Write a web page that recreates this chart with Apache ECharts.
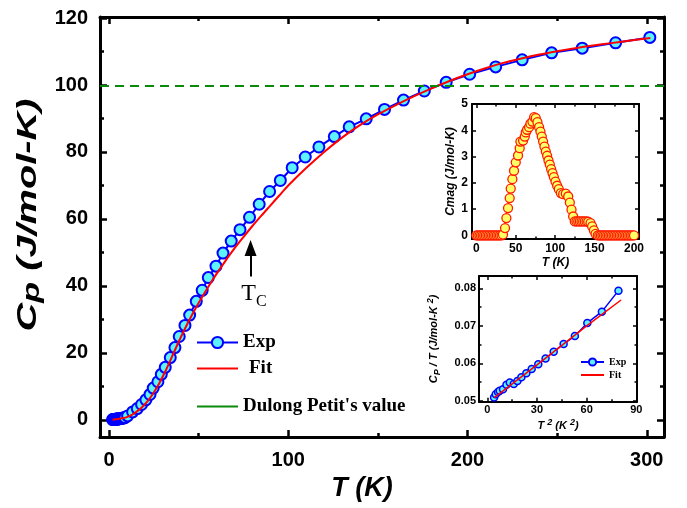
<!DOCTYPE html>
<html>
<head>
<meta charset="utf-8">
<script src="https://cdn.jsdelivr.net/npm/echarts@6/dist/echarts.min.js"></script>
<style>
  html, body { margin: 0; padding: 0; background: #fff; }
  #chart { width: 687px; height: 508px; }
</style>
</head>
<body>
<div id="chart"></div>
<script>
// ---- Main panel: specific heat vs temperature ----
const expT = [2.02, 2.26, 2.55, 2.74, 3.08, 3.41, 3.69, 4.0, 4.27, 4.54, 4.86, 5.18, 5.55, 5.93, 6.33, 6.79, 7.27, 7.77, 8.32, 8.9,
  10.4, 13.2, 15.8, 18.2, 20.6, 22.9, 24.7, 27.3, 29.2, 31.4, 34.2, 36.8, 39.2, 42.4, 45.0, 48.7, 52.0, 55.4, 59.7, 63.6,
  68.2, 73.1, 78.4, 83.8, 89.6, 95.6, 102.2, 109.5, 117.1, 125.7, 134.0, 143.5, 153.7, 164.3, 175.9, 188.1, 201.2, 215.7,
  230.5, 246.9, 264.0, 282.6, 301.7];
const expCp = [0.10, 0.12, 0.13, 0.14, 0.16, 0.19, 0.20, 0.22, 0.24, 0.26, 0.28, 0.30, 0.33, 0.36, 0.40, 0.44, 0.49, 0.55, 0.61, 0.71,
  1.2, 2.4, 3.4, 4.6, 6.0, 7.6, 9.5, 11.4, 13.6, 15.7, 18.6, 21.6, 24.9, 28.2, 31.3, 35.4, 38.7, 42.5, 45.9, 49.8,
  53.4, 56.8, 60.5, 64.4, 68.2, 71.5, 75.3, 78.5, 81.5, 84.6, 87.5, 89.9, 92.7, 95.5, 98.2, 100.8, 103.2, 105.4,
  107.5, 109.6, 111.0, 112.6, 114.2];

const fitT = [2, 5, 8, 10, 13, 16, 19, 22, 25, 28, 31, 34, 37, 40, 43, 46, 50, 55, 60, 65, 70, 75, 80, 85, 90, 95, 100,
  110, 120, 130, 140, 150, 160, 170, 180, 190, 200, 210, 220, 230, 240, 250, 260, 270, 280, 290, 302];
const fitCp = [0.05, 0.25, 0.55, 0.85, 1.6, 2.7, 4.1, 5.9, 8.2, 10.9, 14.0, 17.5, 21.1, 24.6, 27.9, 31.0, 34.9, 39.4, 43.6, 47.5,
  51.2, 54.6, 57.9, 61.0, 64.0, 67.0, 70.0, 75.2, 80.0, 84.3, 88.0, 91.2, 94.0, 96.6, 99.0, 101.2, 103.2, 105.0, 106.6,
  107.9, 109.1, 110.1, 111.0, 111.8, 112.5, 113.2, 114.0];

const dulongPetit = 99.8;

// Curie temperature marker (arrow from/to, label position)
const tcT = 79;
const tcArrowFrom = 42.8;
const tcArrowTo = 51.3;
const tcLabelAt = [80.9, 37.6];

const mainXTicks = [0, 100, 200, 300];
const mainXMinor = [50, 150, 250];
const mainYTicks = [0, 20, 40, 60, 80, 100, 120];
const mainYMinor = [10, 30, 50, 70, 90, 110];

// ---- Inset: magnetic contribution ----
const magT = [0, 2, 4, 6, 8, 10, 12, 14, 16, 18, 20, 22, 24, 26, 28, 30, 32,
  33.8, 36.4, 38.1, 40.2, 42.3, 43.6, 45.7, 47.8, 50.0, 52.9, 55.0, 55.9, 59.3, 61.4, 62.7, 64.4, 66.9, 68.6, 71.1, 73.3,
  75.4, 77.5, 79.6, 81.3, 83.0, 84.7, 86.4, 88.1, 89.8, 91.5, 93.2, 94.9, 96.6, 98.3, 100.4, 102.5, 104.6, 107.2, 110.1, 113.5,
  116.5, 118.6, 120.7, 122.8, 124.9,
  127.0, 129.2, 131.3, 133.4, 135.5, 137.6, 139.8, 141.9, 144.8, 146.9, 149.1, 151.2,
  154, 156, 158, 160, 162, 164, 166, 168, 170, 172, 174, 176, 178, 180, 182, 184, 186, 188, 190, 192, 194, 196, 198, 200];
const magC = [0, 0, 0, 0, 0, 0, 0, 0, 0, 0, 0, 0, 0, 0, 0, 0, 0,
  0.03, 0.28, 0.66, 1.04, 1.42, 1.78, 2.14, 2.46, 2.78, 3.04, 3.32, 3.57, 3.61, 3.76, 3.92, 4.02, 4.12, 4.25, 4.33, 4.50,
  4.46, 4.31, 4.12, 3.95, 3.76, 3.57, 3.38, 3.19, 3.03, 2.85, 2.69, 2.52, 2.37, 2.22, 2.05, 1.89, 1.76, 1.61, 1.57, 1.59,
  1.48, 1.25, 0.98, 0.72, 0.53,
  0.53, 0.53, 0.53, 0.53, 0.53, 0.53, 0.53, 0.52, 0.47, 0.34, 0.19, 0.06,
  0, 0, 0, 0, 0, 0, 0, 0, 0, 0, 0, 0, 0, 0, 0, 0, 0, 0, 0, 0, 0, 0, 0, 0];
const magXTicks = [0, 50, 100, 150, 200];
const magXMinor = [25, 75, 125, 175];
const magYTicks = [0, 1, 2, 3, 4, 5];

// ---- Inset: low-temperature Cp/T vs T^2 ----
const lowT2 = [4.1, 5.1, 6.5, 7.5, 9.5, 11.6, 13.6, 16.0, 18.2, 20.6, 23.6, 26.8, 30.8, 35.2, 40.1, 46.1, 52.9, 60.4, 69.2, 79.2];
const lowCpT = [0.0509, 0.0518, 0.0524, 0.0527, 0.0531, 0.0543, 0.0549, 0.0545, 0.0553, 0.0563, 0.0574, 0.0585, 0.0598,
  0.0613, 0.0631, 0.0652, 0.0673, 0.0708, 0.0738, 0.0794];
const lowFitT2 = [4.2, 30, 60, 80.8];
const lowFitCpT = [0.0509, 0.0596, 0.0700, 0.0769];
const lowXTicks = [0, 30, 60, 90];
const lowXMinor = [15, 45, 75];
const lowYTicks = [0.05, 0.06, 0.07, 0.08];
const lowYMinor = [0.055, 0.065, 0.075];

const SANS = 'Liberation Sans, Arial, sans-serif';
const SERIF = 'Liberation Serif, Times New Roman, serif';

const zip = (a, b) => a.map((v, i) => [v, b[i]]);

// Four axes per dimension: labelled major ticks, minor ticks, and mirrored ticks on the opposite side.
// The major-tick axes also draw the frame lines.
function axisSet(dim, grid, min, max, majors, minors, tick, label, name) {
  const sides = dim === 'x' ? ['bottom', 'top'] : ['left', 'right'];
  const out = [];
  sides.forEach((pos, si) => {
    [[majors, tick.major], [minors, tick.minor]].forEach(([vals, len], mi) => {
      const ax = {
        type: 'value', gridIndex: grid, position: pos, min: min, max: max,
        axisLine: { show: mi === 0, onZero: false, lineStyle: { color: '#000', width: tick.frame } },
        splitLine: { show: false },
        axisTick: { show: vals.length > 0, inside: true, length: len, customValues: vals,
          lineStyle: { color: '#000', width: tick.width } },
        axisLabel: { show: false }
      };
      if (si === 0 && mi === 0) {
        ax.axisLabel = Object.assign({ show: true, customValues: majors, color: '#000' }, label);
        Object.assign(ax, name);
      }
      out.push(ax);
    });
  });
  return out;
}

const mainTick = { major: 7, minor: 4, width: 2.5, frame: 3 };
const insetTick = { major: 4, minor: 2.5, width: 1.5, frame: 2 };

const xAxes = [].concat(
  axisSet('x', 0, -5.0, 309.6, mainXTicks, mainXMinor, mainTick,
    { fontFamily: SANS, fontWeight: 'bold', fontSize: 20, margin: 13 },
    { name: 'T (K)', nameLocation: 'middle', nameGap: 38,
      nameTextStyle: { fontFamily: SANS, fontWeight: 'bold', fontStyle: 'italic', fontSize: 27, color: '#000',
        padding: [0, 40, 0, 0] } }),
  axisSet('x', 1, -5.5, 206.3, magXTicks, magXMinor, insetTick,
    { fontFamily: SANS, fontWeight: 'bold', fontSize: 12, margin: 4 },
    { name: 'T (K)', nameLocation: 'middle', nameGap: 18,
      nameTextStyle: { fontFamily: SANS, fontWeight: 'bold', fontStyle: 'italic', fontSize: 12, color: '#000' } }),
  axisSet('x', 2, -5, 90.4, lowXTicks, lowXMinor, insetTick,
    { fontFamily: SANS, fontWeight: 'bold', fontSize: 11, margin: 3 },
    { name: '{i|T }{u|2}{i| (K }{u|2}{i|)}', nameLocation: 'middle', nameGap: 16,
      nameTextStyle: { rich: {
        i: { fontFamily: SANS, fontWeight: 'bold', fontStyle: 'italic', fontSize: 11, lineHeight: 16, color: '#000' },
        u: { fontFamily: SANS, fontWeight: 'bold', fontStyle: 'italic', fontSize: 9, lineHeight: 9, verticalAlign: 'top', color: '#000' } } } })
);

const yAxes = [].concat(
  axisSet('y', 0, -5.1, 120.3, mainYTicks, mainYMinor, mainTick,
    { fontFamily: SANS, fontWeight: 'bold', fontSize: 20, margin: 12 },
    {}),
  axisSet('y', 1, -0.137, 5, magYTicks, [], insetTick,
    { fontFamily: SANS, fontWeight: 'bold', fontSize: 12, margin: 4 },
    { name: 'Cmag (J/mol-K)', nameLocation: 'middle', nameGap: 15, nameRotate: 90,
      nameTextStyle: { fontFamily: SANS, fontWeight: 'bold', fontStyle: 'italic', fontSize: 12, color: '#000' } }),
  axisSet('y', 2, 0.0498, 0.0833, lowYTicks, lowYMinor, insetTick,
    { fontFamily: SANS, fontWeight: 'bold', fontSize: 11, margin: 3, formatter: v => v.toFixed(2) },
    { name: '{i|C}{s|P}{i| / T (J/mol-K }{u|2}{i|)}', nameLocation: 'middle', nameGap: 37, nameRotate: 90,
      nameTextStyle: { rich: {
        i: { fontFamily: SANS, fontWeight: 'bold', fontStyle: 'italic', fontSize: 11, lineHeight: 16, color: '#000' },
        s: { fontFamily: SANS, fontWeight: 'bold', fontStyle: 'italic', fontSize: 9, lineHeight: 9, verticalAlign: 'bottom', color: '#000' },
        u: { fontFamily: SANS, fontWeight: 'bold', fontStyle: 'italic', fontSize: 9, lineHeight: 9, verticalAlign: 'top', color: '#000' } } } })
);

const legendText = { fontFamily: SERIF, fontWeight: 'bold', fontSize: 19, color: '#000' };
const insetLegendText = { fontFamily: SERIF, fontWeight: 'bold', fontSize: 10, color: '#000' };
const lineOnly = { opacity: 0 };

const option = {
  animation: false,
  backgroundColor: '#fff',
  grid: [
    { left: 100, top: 17, width: 564, height: 420, show: false },
    { left: 472, top: 104, width: 167, height: 135, show: true, borderWidth: 0, backgroundColor: '#fff' },
    { left: 479, top: 276, width: 158, height: 125.7, show: true, borderWidth: 0, backgroundColor: '#fff' }
  ],
  xAxis: xAxes,
  yAxis: yAxes,
  // Main y-axis title, drawn wide like the original typeface
  graphic: [{
    type: 'text', x: 28, y: 215, rotation: Math.PI / 2, scaleX: 1.42, silent: true,
    style: {
      text: '{c|C}{p|p}{c| (J/mol-K)}', align: 'center', verticalAlign: 'middle',
      rich: {
        c: { fontFamily: SANS, fontWeight: 'bold', fontStyle: 'italic', fontSize: 28, lineHeight: 32, fill: '#000' },
        p: { fontFamily: SANS, fontWeight: 'bold', fontStyle: 'italic', fontSize: 24, lineHeight: 24, verticalAlign: 'bottom', fill: '#000' }
      }
    }
  }],
  legend: [
    { data: ['Exp'], left: 196, top: 333, padding: 0, itemWidth: 41, itemHeight: 14, selectedMode: false, textStyle: legendText },
    { data: [{ name: 'Fit', itemStyle: lineOnly }], left: 196, top: 359, padding: 0, itemWidth: 41, itemHeight: 14, selectedMode: false,
      textStyle: Object.assign({ padding: [0, 0, 0, 6] }, legendText) },
    { data: [{ name: "Dulong Petit's value", itemStyle: lineOnly }], left: 196, top: 397, padding: 0, itemWidth: 41, itemHeight: 14,
      selectedMode: false, textStyle: legendText, lineStyle: { type: 'solid' } },
    { data: ['Exp', { name: 'Fit', itemStyle: lineOnly }], orient: 'vertical', left: 580, top: 357, padding: 0, itemGap: 3,
      itemWidth: 23, itemHeight: 9, selectedMode: false, textStyle: insetLegendText }
  ],
  series: [
    {
      name: 'Exp', type: 'line', xAxisIndex: 0, yAxisIndex: 0, z: 3,
      data: zip(expT, expCp),
      symbol: 'circle', symbolSize: 11,
      itemStyle: { color: '#5ef2ff', borderColor: '#0000ff', borderWidth: 2 },
      lineStyle: { color: '#0000ff', width: 2 }
    },
    {
      name: 'Fit', type: 'line', xAxisIndex: 0, yAxisIndex: 0, z: 4,
      data: zip(fitT, fitCp), smooth: 0.3,
      showSymbol: false, symbol: 'none',
      itemStyle: { color: '#ff0000' },
      lineStyle: { color: '#ff0000', width: 2 }
    },
    {
      name: "Dulong Petit's value", type: 'line', xAxisIndex: 0, yAxisIndex: 0, z: 2,
      data: [], symbol: 'none',
      itemStyle: { color: '#0a8a0a' },
      lineStyle: { color: '#0a8a0a', width: 2 },
      markLine: {
        silent: true, symbol: 'none', label: { show: false },
        lineStyle: { color: '#0a8a0a', width: 2, type: [9, 6] },
        data: [{ yAxis: dulongPetit }]
      }
    },
    {
      name: 'Tc', type: 'line', xAxisIndex: 0, yAxisIndex: 0, z: 5,
      data: [], symbol: 'none',
      markLine: {
        silent: true, label: { show: false },
        lineStyle: { color: '#000', width: 2, type: 'solid' },
        data: [[
          { coord: [tcT, tcArrowFrom], symbol: 'none' },
          { coord: [tcT, tcArrowTo], symbol: 'triangle', symbolSize: [12, 16] }
        ]]
      },
      markPoint: {
        silent: true, symbol: 'circle', symbolSize: 1,
        itemStyle: { color: 'rgba(0,0,0,0)' },
        label: {
          show: true, position: 'inside', formatter: '{t|T}{c|C}',
          rich: {
            t: { fontFamily: SERIF, fontSize: 24, lineHeight: 32, color: '#000' },
            c: { fontFamily: SERIF, fontSize: 16, lineHeight: 14, verticalAlign: 'bottom', color: '#000' }
          }
        },
        data: [{ coord: tcLabelAt }]
      }
    },
    {
      name: 'Cmag', type: 'scatter', xAxisIndex: 4, yAxisIndex: 4, z: 3,
      data: zip(magT, magC), symbol: 'circle', symbolSize: 9,
      itemStyle: { color: '#ffff66', borderColor: '#ff1a00', borderWidth: 1.3, opacity: 1 }
    },
    {
      name: 'Exp', type: 'line', xAxisIndex: 8, yAxisIndex: 8, z: 3,
      data: zip(lowT2, lowCpT), symbol: 'circle', symbolSize: 7,
      itemStyle: { color: '#5ef2ff', borderColor: '#0000ff', borderWidth: 1.5 },
      lineStyle: { color: '#0000ff', width: 1.5 }
    },
    {
      name: 'Fit', type: 'line', xAxisIndex: 8, yAxisIndex: 8, z: 4,
      data: zip(lowFitT2, lowFitCpT), symbol: 'none',
      itemStyle: { color: '#ff0000' },
      lineStyle: { color: '#ff0000', width: 1.5 }
    }
  ]
};

const chart = echarts.init(document.getElementById('chart'), null, { renderer: 'canvas' });
chart.setOption(option);
</script>
</body>
</html>
